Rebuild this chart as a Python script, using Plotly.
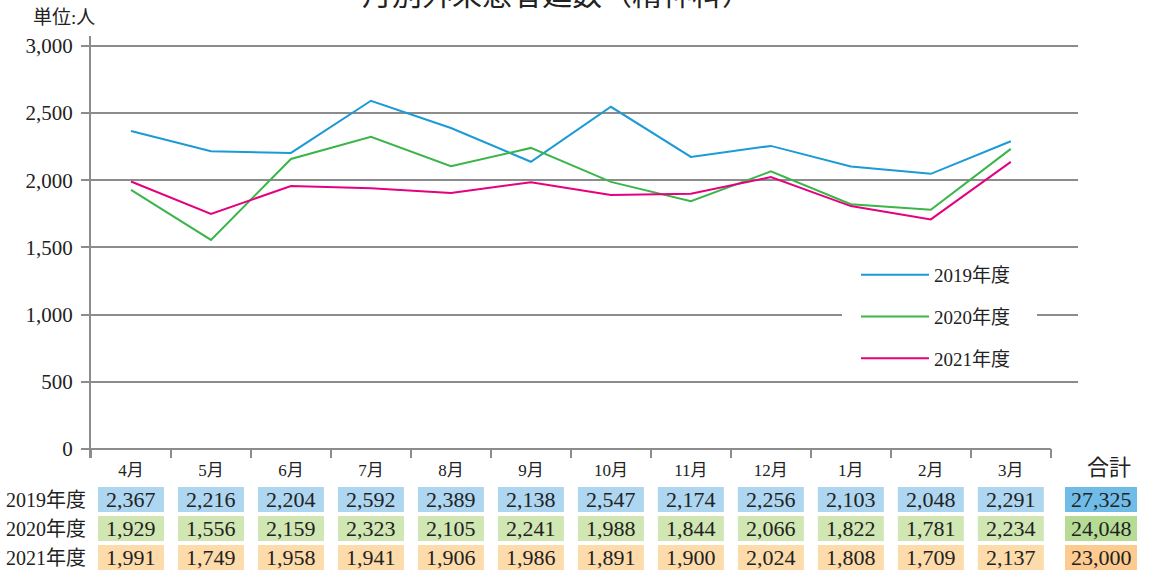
import plotly.graph_objects as go

# ---------------- data ----------------
months = ["4月", "5月", "6月", "7月", "8月", "9月", "10月", "11月", "12月", "1月", "2月", "3月"]
years = ["2019年度", "2020年度", "2021年度"]
v2019 = [2367, 2216, 2204, 2592, 2389, 2138, 2547, 2174, 2256, 2103, 2048, 2291]
v2020 = [1929, 1556, 2159, 2323, 2105, 2241, 1988, 1844, 2066, 1822, 1781, 2234]
v2021 = [1991, 1749, 1958, 1941, 1906, 1986, 1891, 1900, 2024, 1808, 1709, 2137]
totals = [27325, 24048, 23000]
y_ticks = [0, 500, 1000, 1500, 2000, 2500, 3000]

title_text = "月別外来患者延数（精神科）"
unit_text = "単位:人"
total_header = "合計"

# ---------------- style ----------------
line_colors = ["#1b9ad6", "#3ab54a", "#e4007f"]
cell_colors = ["#aed6f1", "#d0e6b3", "#fddbab"]
total_colors = ["#70bce8", "#b5db95", "#fdca90"]
GRID = "#8c8c8c"
SERIF = "Liberation Serif, Noto Sans CJK JP"
SANS = "Noto Sans CJK JP"
TXT = "#222222"

W, H = 1150, 574
ML, MR, MT, MB = 91, 72, 36, 116
XMIN, XMAX = -0.5, 11.84
YMIN, YMAX = -67, 3074
PW, PH = W - ML - MR, H - MT - MB


def px_x(p):
    return (p - ML) / PW


def px_y(p):
    return (H - MB - p) / PH


def cat_x(i):
    return (i - XMIN) / (XMAX - XMIN)


series = [v2019, v2020, v2021]

fig = go.Figure()
for name, vals, col in zip(years, series, line_colors):
    fig.add_trace(go.Scatter(
        x=list(range(len(months))), y=vals, mode="lines", name=name,
        legendgroup=name, line=dict(color=col, width=2), hoverinfo="skip"))

shapes = []
annotations = []

# zero axis line (only across the categories)
shapes.append(dict(type="line", xref="x", yref="y", x0=-0.5, x1=len(months) - 0.5,
                   y0=0, y1=0, line=dict(color=GRID, width=2), layer="above"))

# white legend backdrop
shapes.append(dict(type="rect", xref="paper", yref="paper", x0=px_x(842), x1=px_x(1037),
                   y0=px_y(375), y1=px_y(255), fillcolor="white", line=dict(width=0), layer="above"))

# table
cell_half = 33 / PW
row_centers = [499.5, 528.5, 557.5]
for r, (name, vals) in enumerate(zip(years, series)):
    yc = row_centers[r]
    annotations.append(dict(xref="paper", yref="paper", x=px_x(88), y=px_y(yc),
                            xanchor="right", yanchor="middle", text=name, showarrow=False,
                            font=dict(family=SERIF, size=20, color=TXT)))
    for i, v in enumerate(vals):
        xc = cat_x(i)
        shapes.append(dict(type="rect", xref="paper", yref="paper",
                           x0=xc - cell_half, x1=xc + cell_half,
                           y0=px_y(yc + 12.5), y1=px_y(yc - 12.5),
                           fillcolor=cell_colors[r], line=dict(width=0), layer="above"))
        annotations.append(dict(xref="paper", yref="paper", x=xc, y=px_y(yc),
                                xanchor="center", yanchor="middle", text=f"{v:,}",
                                showarrow=False, font=dict(family=SERIF, size=22, color=TXT)))
    # total column
    shapes.append(dict(type="rect", xref="paper", yref="paper", x0=px_x(1065), x1=px_x(1137),
                       y0=px_y(yc + 12.5), y1=px_y(yc - 12.5),
                       fillcolor=total_colors[r], line=dict(width=0), layer="above"))
    annotations.append(dict(xref="paper", yref="paper", x=px_x(1101), y=px_y(yc),
                            xanchor="center", yanchor="middle", text=f"{totals[r]:,}",
                            showarrow=False, font=dict(family=SERIF, size=22, color=TXT)))

annotations.append(dict(xref="paper", yref="paper", x=px_x(1109), y=px_y(467),
                        xanchor="center", yanchor="middle", text=total_header, showarrow=False,
                        font=dict(family=SERIF, size=22, color=TXT)))
annotations.append(dict(xref="paper", yref="paper", x=px_x(31), y=px_y(17),
                        xanchor="left", yanchor="middle", text=unit_text, showarrow=False,
                        font=dict(family=SERIF, size=19, color=TXT)))
annotations.append(dict(xref="paper", yref="paper", x=px_x(557), y=px_y(-8),
                        xanchor="center", yanchor="middle", text=title_text, showarrow=False,
                        font=dict(family=SANS, size=30, color="#222222")))

fig.update_layout(
    width=W, height=H,
    margin=dict(l=ML, r=MR, t=MT, b=MB, pad=0),
    paper_bgcolor="white", plot_bgcolor="white",
    font=dict(family=SERIF, color=TXT),
    shapes=shapes, annotations=annotations,
    showlegend=True,
    legend=dict(x=px_x(856), y=px_y(256), xanchor="left", yanchor="top",
                bgcolor="rgba(0,0,0,0)", itemwidth=68, tracegroupgap=14,
                font=dict(family=SERIF, size=19, color=TXT)),
    xaxis=dict(range=[XMIN, XMAX], tickmode="array", tickvals=list(range(len(months))),
               ticktext=months, ticks="", showgrid=False, zeroline=False, showline=False,
               tickfont=dict(family=SERIF, size=17, color=TXT),
               minor=dict(tickmode="array", tickvals=[i - 0.5 for i in range(len(months) + 1)],
                          ticks="inside", ticklen=9, tickwidth=2, tickcolor=GRID, showgrid=False)),
    yaxis=dict(range=[YMIN, YMAX], tickmode="array", tickvals=y_ticks,
               ticktext=[f"{v:,}" for v in y_ticks], ticks="outside", ticklen=8, tickwidth=2,
               tickcolor=GRID, showline=True, linewidth=2, linecolor=GRID, showgrid=False,
               zeroline=False, ticklabelstandoff=4, tickfont=dict(family=SERIF, size=21, color=TXT),
               minor=dict(tickmode="array", tickvals=y_ticks[1:], showgrid=True,
                          gridcolor=GRID, gridwidth=2, ticks="")),
)

fig.write_html("out.html", config={"displayModeBar": False},
               post_script="document.body.style.margin='0';")
